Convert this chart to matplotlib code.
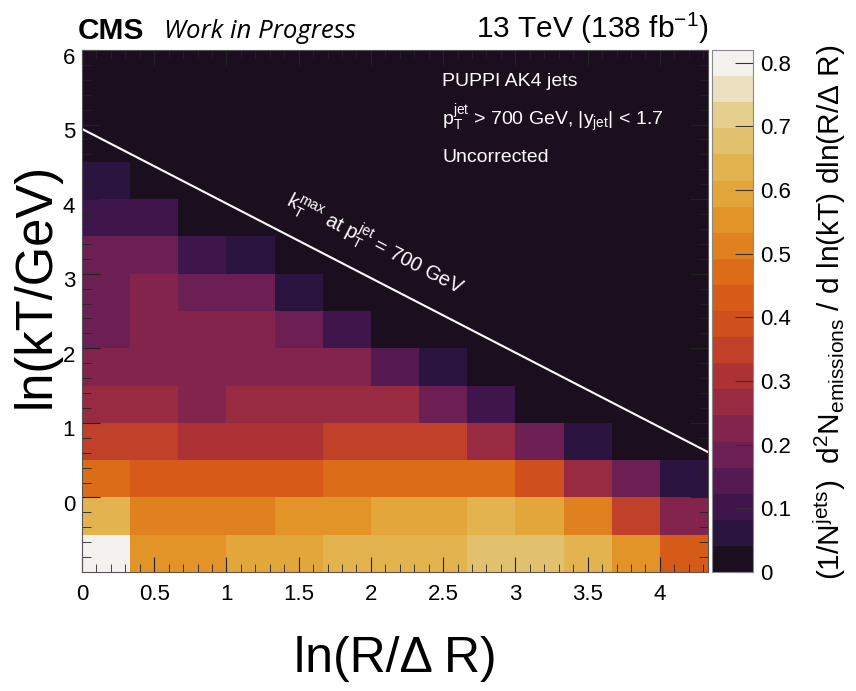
import numpy as np
import matplotlib
matplotlib.use("Agg")
import matplotlib.pyplot as plt
from matplotlib.colors import ListedColormap, BoundaryNorm
from matplotlib.ticker import MultipleLocator
from matplotlib.transforms import ScaledTranslation

plt.rcParams['font.family'] = ['Liberation Sans', 'DejaVu Sans']
plt.rcParams['mathtext.fontset'] = 'custom'
plt.rcParams['mathtext.rm'] = 'Liberation Sans'
plt.rcParams['mathtext.it'] = 'Liberation Sans:italic'
plt.rcParams['mathtext.bf'] = 'Liberation Sans:bold'

# Lund-plane binning: ln(R/dR) in steps of 1/3, ln(kT/GeV) in steps of 0.5
x_edges = np.linspace(0.0, 13 / 3, 14)
y_edges = np.linspace(-1.0, 6.0, 15)

# Emission density per bin, one list per ln(kT) row (bottom row first)
row_m1p0 = [0.80, 0.56, 0.56, 0.60, 0.60, 0.64, 0.64, 0.64, 0.68, 0.68, 0.64, 0.56, 0.43]
row_m0p5 = [0.64, 0.51, 0.51, 0.51, 0.56, 0.56, 0.60, 0.60, 0.64, 0.60, 0.51, 0.35, 0.23]
row_0p0 = [0.47, 0.43, 0.43, 0.43, 0.43, 0.47, 0.47, 0.47, 0.47, 0.39, 0.27, 0.18, 0.06]
row_0p5 = [0.35, 0.35, 0.31, 0.31, 0.31, 0.35, 0.35, 0.35, 0.27, 0.18, 0.06, 0.01, 0.01]
row_1p0 = [0.27, 0.27, 0.23, 0.27, 0.27, 0.27, 0.27, 0.18, 0.10, 0.01, 0.01, 0.0, 0.0]
row_1p5 = [0.23, 0.23, 0.23, 0.23, 0.23, 0.23, 0.14, 0.06, 0.01, 0.01, 0.0, 0.0, 0.0]
row_2p0 = [0.18, 0.23, 0.23, 0.23, 0.18, 0.10, 0.01, 0.01, 0.0, 0.0, 0.0, 0.0, 0.0]
row_2p5 = [0.18, 0.23, 0.18, 0.18, 0.06, 0.01, 0.01, 0.0, 0.0, 0.0, 0.0, 0.0, 0.0]
row_3p0 = [0.18, 0.18, 0.10, 0.06, 0.01, 0.01, 0.0, 0.0, 0.0, 0.0, 0.0, 0.0, 0.0]
row_3p5 = [0.10, 0.10, 0.01, 0.01, 0.0, 0.0, 0.0, 0.0, 0.0, 0.0, 0.0, 0.0, 0.0]
row_4p0 = [0.06, 0.01, 0.01, 0.0, 0.0, 0.0, 0.0, 0.0, 0.0, 0.0, 0.0, 0.0, 0.0]
row_4p5 = [0.01, 0.01, 0.0, 0.0, 0.0, 0.0, 0.0, 0.0, 0.0, 0.0, 0.0, 0.0, 0.0]
row_5p0 = [0.01, 0.0, 0.0, 0.0, 0.0, 0.0, 0.0, 0.0, 0.0, 0.0, 0.0, 0.0, 0.0]
row_5p5 = [0.0, 0.0, 0.0, 0.0, 0.0, 0.0, 0.0, 0.0, 0.0, 0.0, 0.0, 0.0, 0.0]

density_rows = [row_m1p0, row_m0p5, row_0p0, row_0p5, row_1p0, row_1p5, row_2p0,
                row_2p5, row_3p0, row_3p5, row_4p0, row_4p5, row_5p0, row_5p5]

x_ticks = [0, 0.5, 1, 1.5, 2, 2.5, 3, 3.5, 4]
y_ticks = [0, 1, 2, 3, 4, 5, 6]
z_ticks = [0, 0.1, 0.2, 0.3, 0.4, 0.5, 0.6, 0.7, 0.8]
z_max = 0.82
n_levels = 20

pt_jet = 700.0
jet_radius = 0.4

# 20-step palette, dark purple through red and orange to cream
palette = ['#1b0f1f', '#2b1440', '#3f164c', '#551a52', '#6c1f52',
           '#82244b', '#982a41', '#ad3236', '#c1402a', '#d0501d',
           '#d65b18', '#dd6c19', '#e0811f', '#e29429', '#e3a63a',
           '#e2b34f', '#e1c16d', '#e5cf8e', '#ede0c0', '#f3f2ef']
cmap = ListedColormap(palette)
levels = np.linspace(0.0, z_max, n_levels + 1)
norm = BoundaryNorm(levels, cmap.N, clip=True)

W, H = 856, 691
fig = plt.figure(figsize=(W / 100, H / 100), dpi=100)


def fx(px):
    return px / W


def fy(py):
    return 1 - py / H


ax = fig.add_axes([fx(82), fy(572), (708 - 82) / W, (572 - 50) / H])
ax.set_facecolor(palette[0])
Z = np.array(density_rows)
mesh = ax.pcolormesh(x_edges, y_edges, Z, cmap=cmap, norm=norm,
                     shading='flat', antialiased=False, linewidth=0)
ax.set_xlim(x_edges[0], x_edges[-1])
ax.set_ylim(y_edges[0], y_edges[-1])

# kinematic limit: kT_max = pT * R/2 * dR/R
xl = np.array([x_edges[0], x_edges[-1]])
ax.plot(xl, np.log(0.5 * jet_radius * pt_jet) - xl, color='white', lw=1.5)

ax.set_xticks(x_ticks)
ax.set_xticklabels(['0', '0.5', '1', '1.5', '2', '2.5', '3', '3.5', '4'])
ax.set_yticks(y_ticks)
ax.xaxis.set_minor_locator(MultipleLocator(0.1))
ax.yaxis.set_minor_locator(MultipleLocator(0.2))
ax.tick_params(axis='both', which='both', direction='in', top=True, right=True,
               labelsize=16, color='#222222')
ax.tick_params(axis='x', which='major', length=11, pad=9)
ax.tick_params(axis='x', which='minor', length=6)
ax.tick_params(axis='y', which='major', length=13, pad=5)
ax.tick_params(axis='y', which='minor', length=6.5)
shift_down = ScaledTranslation(0, -0.055, fig.dpi_scale_trans)
for lab in ax.get_yticklabels():
    lab.set_transform(lab.get_transform() + shift_down)
for s in ax.spines.values():
    s.set_color('#555555')
    s.set_linewidth(0.8)

# annotations inside the frame
fig.text(fx(442), fy(82), 'PUPPI AK4 jets', color='white', fontsize=14,
         ha='left', va='center')
fig.text(fx(442), fy(119),
         r'p$_{\mathrm{T}}^{\mathrm{jet}}$ > 700 GeV, |y$_{\mathrm{jet}}$| < 1.7',
         color='white', fontsize=14, ha='left', va='center')
fig.text(fx(442), fy(157), 'Uncorrected', color='white', fontsize=14,
         ha='left', va='center')

label_x = 2.03
ang = ax.transData.transform_angles(np.array([-45.0]),
                                    np.array([[label_x, 3.0]]))[0]
ax.text(label_x, np.log(0.5 * jet_radius * pt_jet) - label_x + 0.5,
        r'k$_{\mathrm{T}}^{\mathrm{max}}$ at p$_{\mathrm{T}}^{\mathrm{jet}}$ = 700 GeV',
        color='white', fontsize=14.5, rotation=ang, rotation_mode='anchor',
        ha='center', va='center')

# colour scale
cax = fig.add_axes([fx(712), fy(572), (753 - 712) / W, (572 - 50) / H])
cb = fig.colorbar(mesh, cax=cax, ticks=z_ticks, spacing='proportional')
cb.ax.set_ylim(0, z_max)
cb.ax.set_yticklabels(['0', '0.1', '0.2', '0.3', '0.4', '0.5', '0.6', '0.7', '0.8'])
cb.ax.tick_params(direction='in', length=13, labelsize=16, pad=5, color='#333333',
                  width=0.8)
cb.ax.minorticks_off()
cb.outline.set_edgecolor('#888888')
cb.outline.set_linewidth(0.8)

# axis titles
fig.text(fx(395), fy(659), 'ln(R/Δ R)', fontsize=36, ha='center', va='center')
fig.text(fx(36), fy(285), 'ln(kT/GeV)', fontsize=36.5, ha='center', va='center',
         rotation=90)
fig.text(fx(830), fy(312),
         r'(1/N$^{\mathrm{jets}}$)  d$^{2}$N$_{\mathrm{emissions}}$ / d ln(kT) dln(R/Δ R)',
         fontsize=21.5, ha='center', va='center', rotation=90)

# header
fig.text(fx(78), fy(39), 'CMS', fontsize=21.5, fontweight='bold', ha='left',
         va='baseline')
fig.text(fx(164), fy(38), 'Work in Progress', fontsize=18.5, style='italic',
         family=['Open Sans', 'Noto Sans', 'DejaVu Sans'], ha='left', va='baseline')
fig.text(fx(709), fy(38), r'13 TeV (138 fb$^{\mathrm{-1}}$)', fontsize=21.5,
         ha='right', va='baseline')

fig.savefig('out.png', dpi=100)
